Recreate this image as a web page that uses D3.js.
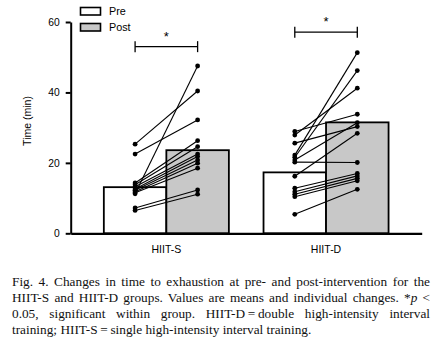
<!DOCTYPE html>
<html>
<head>
<meta charset="utf-8">
<script src="https://cdn.jsdelivr.net/npm/d3@7"></script>
<style>
  body { margin: 0; background: #fff; }
  #chart { position: absolute; left: 0; top: 0; }
  #caption {
    position: absolute; left: 12px; top: 274px; width: 418px;
    font-family: "Liberation Serif", "Times New Roman", serif;
    font-size: 13.3px; line-height: 16.1px; color: #111;
  }
  #caption div { text-align: justify; text-align-last: justify; white-space: nowrap; }
  #caption div.last { text-align-last: left; }
</style>
</head>
<body>
<svg id="chart" width="436" height="270"></svg>
<div id="caption"></div>
<script>
var groups = ["HIIT-S", "HIIT-D"];
var phases = ["Pre", "Post"];

// bar heights (means)
var meanPre = [13.1, 17.3];
var meanPost = [23.6, 31.5];

// individual values, same subject order in pre and post
var hiitSPre = [25.3, 22.5, 11.2, 14.3, 13.8, 13.2, 12.6, 12.2, 11.8, 11.5, 7.2, 6.5];
var hiitSPost = [40.4, 32.2, 47.5, 26.3, 24.6, 22.5, 21.8, 20.8, 19.9, 18.5, 12.3, 11.1];
var hiitDPre = [28.9, 27.9, 25.6, 22.2, 21.6, 20.8, 20.2, 16.2, 12.8, 11.8, 11.1, 10.4, 5.4];
var hiitDPost = [33.8, 41.2, 30.3, 51.3, 46.2, 31.4, 20.1, 28.4, 17.0, 16.3, 15.6, 14.9, 12.5];

var yTicks = [0, 20, 40, 60];
var sigLevel = [53, 57.1];

var captionLines = [
  "Fig. 4. Changes in time to exhaustion at pre- and post-intervention for the",
  "HIIT-S and HIIT-D groups. Values are means and individual changes. *<i>p</i> &lt;",
  "0.05, significant within group. HIIT-D\u2009=\u2009double high-intensity interval",
  "training; HIIT-S\u2009=\u2009single high-intensity interval training."
];

function drawChart() {
  var svg = d3.select("#chart");
  var font = "'Liberation Sans', Arial, sans-serif";

  var x = d3.scaleBand()
    .domain(groups)
    .range([70.7, 421.7])
    .paddingInner(0.217)
    .paddingOuter(0.2075);

  var xInner = d3.scaleBand()
    .domain(phases)
    .range([0, x.bandwidth()]);

  var y = d3.scaleLinear().domain([0, 60]).range([233.3, 22]);

  var subjects = [
    d3.zip(hiitSPre, hiitSPost),
    d3.zip(hiitDPre, hiitDPost)
  ];

  // bars
  var bars = [];
  groups.forEach(function(g, i) {
    bars.push({ group: g, phase: "Pre", value: meanPre[i] });
    bars.push({ group: g, phase: "Post", value: meanPost[i] });
  });

  svg.append("g")
    .selectAll("rect")
    .data(bars)
    .enter()
    .append("rect")
    .attr("x", function(d) { return x(d.group) + xInner(d.phase); })
    .attr("y", function(d) { return y(d.value); })
    .attr("width", xInner.bandwidth())
    .attr("height", function(d) { return y(0) - y(d.value); })
    .attr("fill", function(d) { return d.phase == "Pre" ? "#fff" : "#c8c8c8"; })
    .attr("stroke", "#000")
    .attr("stroke-width", 1.8);

  function cx(g, phase) {
    return x(g) + xInner(phase) + xInner.bandwidth() / 2;
  }

  groups.forEach(function(g, i) {
    var gg = svg.append("g");
    gg.selectAll("line")
      .data(subjects[i])
      .enter()
      .append("line")
      .attr("x1", cx(g, "Pre"))
      .attr("x2", cx(g, "Post"))
      .attr("y1", function(d) { return y(d[0]); })
      .attr("y2", function(d) { return y(d[1]); })
      .attr("stroke", "#000")
      .attr("stroke-width", 1.1);

    var pts = [];
    subjects[i].forEach(function(d) {
      pts.push({ phase: "Pre", v: d[0] });
      pts.push({ phase: "Post", v: d[1] });
    });
    gg.selectAll("circle")
      .data(pts)
      .enter()
      .append("circle")
      .attr("cx", function(d) { return cx(g, d.phase); })
      .attr("cy", function(d) { return y(d.v); })
      .attr("r", 2.4)
      .attr("fill", "#000");

    // significance bracket
    var x1 = cx(g, "Pre"), x2 = cx(g, "Post"), yb = y(sigLevel[i]);
    var br = svg.append("g").attr("stroke", "#000").attr("stroke-width", 1.3);
    br.append("line").attr("x1", x1).attr("x2", x2).attr("y1", yb).attr("y2", yb);
    br.append("line").attr("x1", x1).attr("x2", x1).attr("y1", yb - 5.5).attr("y2", yb + 5.5);
    br.append("line").attr("x1", x2).attr("x2", x2).attr("y1", yb - 5.5).attr("y2", yb + 5.5);
    svg.append("text")
      .attr("x", (x1 + x2) / 2)
      .attr("y", yb - 6)
      .attr("text-anchor", "middle")
      .attr("font-family", font)
      .attr("font-size", 13)
      .text("*");
  });

  // axes
  var yAxis = svg.append("g")
    .attr("transform", "translate(70.7,0)")
    .call(d3.axisLeft(y).tickValues(yTicks).tickSize(5).tickSizeOuter(0).tickPadding(6));
  yAxis.selectAll("path, line").attr("stroke", "#000").attr("stroke-width", 2);
  yAxis.selectAll("text").attr("font-family", font).attr("font-size", 10.3).attr("fill", "#000");

  var xAxis = svg.append("g")
    .attr("transform", "translate(0," + y(0) + ")")
    .call(d3.axisBottom(x).tickSize(0).tickSizeOuter(0).tickPadding(12));
  xAxis.select("path").attr("stroke", "#000").attr("stroke-width", 2.2);
  xAxis.selectAll("text").attr("font-family", font).attr("font-size", 10.5).attr("fill", "#000");

  svg.append("text")
    .attr("transform", "translate(31,121) rotate(-90)")
    .attr("text-anchor", "middle")
    .attr("font-family", font)
    .attr("font-size", 10.5)
    .text("Time (min)");

  // legend
  var legend = svg.append("g")
    .selectAll("g")
    .data(phases)
    .enter()
    .append("g")
    .attr("transform", function(d, i) { return "translate(80.5," + (7.5 + i * 16) + ")"; });
  legend.append("rect")
    .attr("width", 20)
    .attr("height", 7.5)
    .attr("fill", function(d) { return d == "Pre" ? "#fff" : "#c8c8c8"; })
    .attr("stroke", "#000")
    .attr("stroke-width", 1.6);
  legend.append("text")
    .attr("x", 28.5)
    .attr("y", 7.5)
    .attr("font-family", font)
    .attr("font-size", 10.8)
    .text(function(d) { return d; });
}

function drawCaption() {
  d3.select("#caption")
    .selectAll("div")
    .data(captionLines)
    .enter()
    .append("div")
    .classed("last", function(d, i) { return i == captionLines.length - 1; })
    .html(function(d) { return d; });
}

drawChart();
drawCaption();
</script>
</body>
</html>
